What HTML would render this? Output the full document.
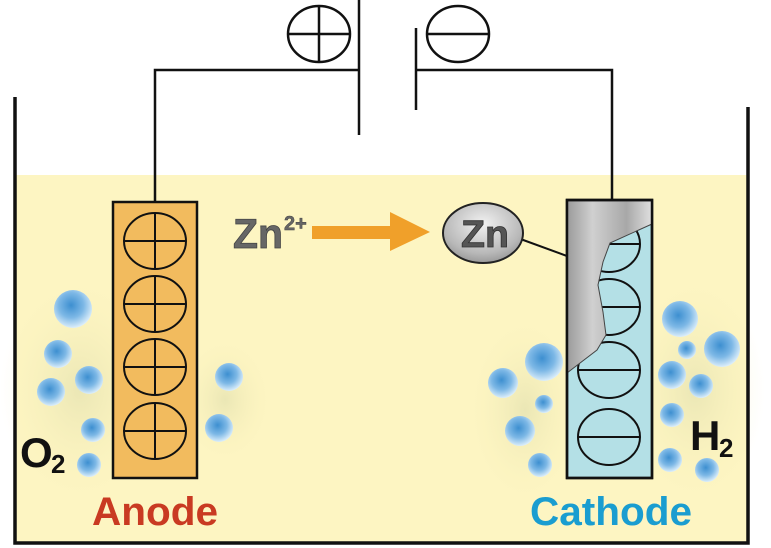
<!DOCTYPE html>
<html><head><meta charset="utf-8"><style>
html,body{margin:0;padding:0;background:#fff;width:771px;height:548px;overflow:hidden}
svg{display:block}
text{font-family:"Liberation Sans",sans-serif;font-weight:bold}
</style></head><body>
<svg width="771" height="548" viewBox="0 0 771 548" xmlns="http://www.w3.org/2000/svg">
<defs>
<radialGradient id="bub" cx="0.45" cy="0.4" r="0.6">
<stop offset="0" stop-color="#3d8fd0"/><stop offset="0.55" stop-color="#7db8e6"/><stop offset="1" stop-color="#dceefa"/>
</radialGradient>
<radialGradient id="glow" cx="0.5" cy="0.5" r="0.5">
<stop offset="0" stop-color="#d8d8a8" stop-opacity="0.5"/><stop offset="1" stop-color="#f8f0b8" stop-opacity="0"/>
</radialGradient>
<linearGradient id="metal" x1="0" y1="0" x2="1" y2="0">
<stop offset="0" stop-color="#9a9a9a"/><stop offset="0.3" stop-color="#d0d0d0"/><stop offset="0.7" stop-color="#a8a8a8"/><stop offset="1" stop-color="#e0e0e0"/>
</linearGradient>
<radialGradient id="zn" cx="0.5" cy="0.35" r="0.7">
<stop offset="0" stop-color="#f2f2f2"/><stop offset="0.7" stop-color="#b8b8b8"/><stop offset="1" stop-color="#909090"/>
</radialGradient>
</defs>
<rect x="15" y="175" width="733" height="368" fill="#fdf5c2"/>
<ellipse cx="80" cy="390" rx="80" ry="110" fill="url(#glow)"/>
<ellipse cx="225" cy="400" rx="45" ry="60" fill="url(#glow)"/>
<ellipse cx="525" cy="410" rx="55" ry="90" fill="url(#glow)"/>
<ellipse cx="695" cy="390" rx="70" ry="110" fill="url(#glow)"/>
<path d="M15 97 V543 H748 V107" fill="none" stroke="#111" stroke-width="3.5"/>
<g stroke="#111" stroke-width="2.5" fill="none">
<path d="M155 202 V70 H359"/>
<path d="M359 0 V135"/>
<path d="M416 28 V110"/>
<path d="M416 70 H612 V200"/>
<ellipse cx="319" cy="34" rx="31" ry="28"/>
<path d="M288 34 H350 M319 6 V62"/>
<ellipse cx="458" cy="34" rx="31" ry="28"/>
<path d="M427 34 H489"/>
</g>
<rect x="113" y="202" width="84" height="276" fill="#f2bb5e" stroke="#111" stroke-width="2.5"/>
<g stroke="#111" stroke-width="2" fill="none">
<ellipse cx="155" cy="241" rx="31" ry="28"/><path d="M124 241 H186 M155 213 V269"/>
<ellipse cx="155" cy="304" rx="31" ry="28"/><path d="M124 304 H186 M155 276 V332"/>
<ellipse cx="155" cy="367" rx="31" ry="28"/><path d="M124 367 H186 M155 339 V395"/>
<ellipse cx="155" cy="431" rx="31" ry="28"/><path d="M124 431 H186 M155 403 V459"/>
</g>
<rect x="567" y="200" width="85" height="278" fill="#b4e0e6" stroke="#111" stroke-width="2.5"/>
<g stroke="#111" stroke-width="2" fill="none">
<ellipse cx="609" cy="244" rx="31" ry="28"/><path d="M578 244 H640"/>
<ellipse cx="609" cy="307" rx="31" ry="28"/><path d="M578 307 H640"/>
<ellipse cx="609" cy="370" rx="31" ry="28"/><path d="M578 370 H640"/>
<ellipse cx="609" cy="437" rx="31" ry="28"/><path d="M578 437 H640"/>
</g>
<polygon points="567,201 652,201 652,224 610,243 603,262 598,285 603,312 606,335 597,350 567,373" fill="url(#metal)" stroke="#444" stroke-width="1"/>
<rect x="567" y="200" width="85" height="278" fill="none" stroke="#111" stroke-width="2.5"/>
<line x1="515" y1="237" x2="567" y2="256" stroke="#111" stroke-width="2"/>
<ellipse cx="483" cy="233" rx="40" ry="30" fill="url(#zn)" stroke="#222" stroke-width="2"/>
<text x="461" y="247" font-size="38" fill="#555" stroke="#333" stroke-width="0.8" textLength="48" lengthAdjust="spacingAndGlyphs">Zn</text>
<text x="233" y="248" font-size="42" fill="#666" stroke="#444" stroke-width="0.8" textLength="50" lengthAdjust="spacingAndGlyphs">Zn</text>
<text x="284" y="230" font-size="20" fill="#666" stroke="#444" stroke-width="0.5">2+</text>
<path d="M312 226 H390 V212 L430 232 L390 251 V239 H312 Z" fill="#f0a02a"/>
<g fill="url(#bub)">
<circle cx="73" cy="309" r="19"/><circle cx="58" cy="354" r="14"/><circle cx="89" cy="380" r="14"/>
<circle cx="51" cy="392" r="14"/><circle cx="93" cy="430" r="12"/><circle cx="89" cy="465" r="12"/>
<circle cx="229" cy="377" r="14"/><circle cx="219" cy="428" r="14"/>
<circle cx="680" cy="319" r="18"/><circle cx="687" cy="350" r="9"/><circle cx="722" cy="349" r="18"/>
<circle cx="544" cy="362" r="19"/><circle cx="503" cy="383" r="15"/><circle cx="544" cy="404" r="9"/>
<circle cx="520" cy="431" r="15"/><circle cx="540" cy="465" r="12"/><circle cx="672" cy="375" r="14"/>
<circle cx="701" cy="386" r="12"/><circle cx="672" cy="415" r="12"/><circle cx="670" cy="460" r="12"/>
<circle cx="707" cy="470" r="12"/>
</g>
<text x="20" y="467" font-size="42" fill="#111">O</text>
<text x="51" y="473" font-size="26" fill="#111">2</text>
<text x="690" y="450" font-size="42" fill="#111">H</text>
<text x="719" y="457" font-size="26" fill="#111">2</text>
<text x="92" y="525" font-size="40" fill="#c93a22" textLength="126" lengthAdjust="spacingAndGlyphs">Anode</text>
<text x="530" y="525" font-size="40" fill="#1a9dd0" textLength="162" lengthAdjust="spacingAndGlyphs">Cathode</text>
</svg>
</body></html>
